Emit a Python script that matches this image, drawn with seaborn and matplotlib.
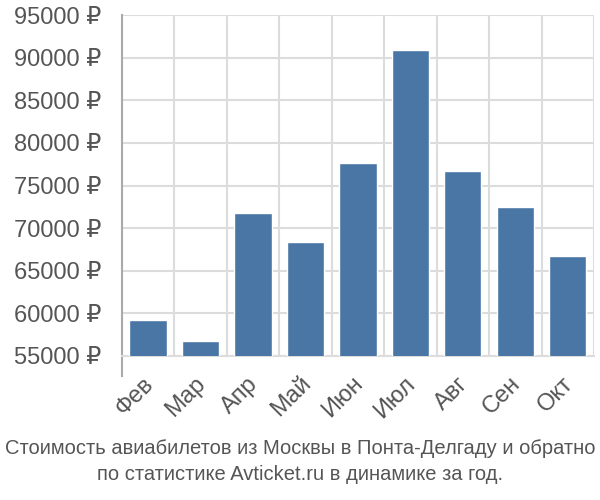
import numpy as np
import pandas as pd
import matplotlib
matplotlib.use("Agg")
import matplotlib.pyplot as plt
import matplotlib.transforms as mtransforms
import seaborn as sns

months = ["Фев", "Мар", "Апр", "Май", "Июн", "Июл", "Авг", "Сен", "Окт"]
prices = [59220, 56740, 71720, 68320, 77630, 90900, 76720, 72460, 66760]
yticks = [55000, 60000, 65000, 70000, 75000, 80000, 85000, 90000, 95000]
caption = ("Стоимость авиабилетов из Москвы в Понта-Делгаду и обратно\n"
           "по статистике Avticket.ru в динамике за год.")

sns.set_style("white")
plt.rcParams["font.family"] = ["Liberation Sans", "DejaVu Sans"]

df = pd.DataFrame({"month": months, "price": prices})

fig = plt.figure(figsize=(6, 5), dpi=100)
ax = fig.add_axes([0.203, 0.288, 0.787, 0.682])
sns.barplot(data=df, x="month", y="price", color="#4a76a6", width=0.71,
            saturation=1, ax=ax, zorder=3)

grid_c = "#dcdcdc"
text_c = "#555555"

ax.set_ylim(55000, 95000)
ax.set_xlim(-0.5, len(months) - 0.5)
ax.set_yticks(yticks)
ax.set_yticklabels([f"{v} ₽" for v in yticks], fontsize=17, color=text_c)
ax.tick_params(axis="y", length=14, width=1.5, color=grid_c, pad=1)

ax.set_xticks(range(len(months)))
ax.set_xticklabels(months, fontsize=17, color=text_c, rotation=45,
                   ha="right", rotation_mode="anchor")
ax.tick_params(axis="x", which="major", length=0, pad=12)
shift = mtransforms.ScaledTranslation(-6 / 100, 0, fig.dpi_scale_trans)
for lbl in ax.get_xticklabels():
    lbl.set_transform(lbl.get_transform() + shift)
ax.set_xticks(np.arange(-0.5, len(months), 1.0), minor=True)
ax.tick_params(axis="x", which="minor", length=15, width=1.5, color=grid_c)

ax.grid(axis="y", which="major", color=grid_c, linewidth=1.5, zorder=0)
ax.grid(axis="x", which="minor", color=grid_c, linewidth=1.5, zorder=0)
ax.set_axisbelow(True)

for s in ["top", "right"]:
    ax.spines[s].set_visible(False)
ax.spines["bottom"].set_color(grid_c)
ax.spines["bottom"].set_linewidth(1.5)
ax.spines["left"].set_color("#aaaaaa")
ax.spines["left"].set_linewidth(1.5)
ax.spines["left"].set_bounds(55000 - 2300, 95000)

ax.set_xlabel("")
ax.set_ylabel("")

fig.text(0.5, 0.077, caption, ha="center", va="center", fontsize=14.5,
         color=text_c, linespacing=1.4)

fig.savefig("out.png", dpi=100)
